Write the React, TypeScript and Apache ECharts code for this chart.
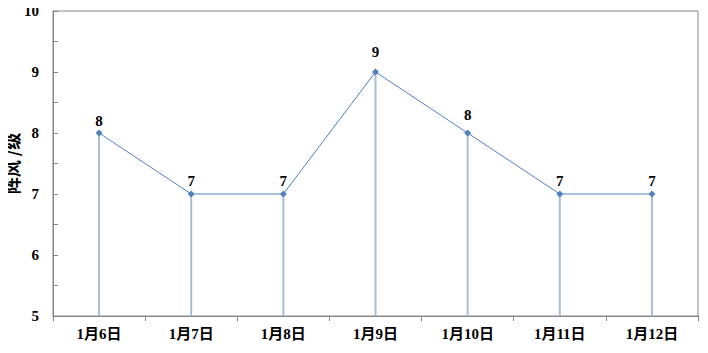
import React, { useEffect, useRef } from "react";
import * as echarts from "echarts";

const categories = ["1月6日", "1月7日", "1月8日", "1月9日", "1月10日", "1月11日", "1月12日"];
const gustValues = [8, 7, 7, 9, 8, 7, 7];
const yAxisName = "阵风 /级";

// per-label offset above the marker (style only)
const labelDistances = [1, 2, 2, 9, 7, 2, 2];

const FONT = "'Liberation Serif', 'Times New Roman', 'Noto Sans CJK SC', serif";

export default function App() {
  const ref = useRef<HTMLDivElement>(null);
  useEffect(() => {
    if (!ref.current) return;
    const chart = echarts.init(ref.current, undefined, { renderer: "svg" });
    chart.setOption({
      animation: false,
      backgroundColor: "#ffffff",
      grid: {
        left: 53,
        right: 10,
        top: 11,
        bottom: 37,
        show: true,
        borderColor: "#868686",
        borderWidth: 1,
        containLabel: false,
        outerBoundsMode: "none",
      },
      xAxis: {
        type: "category",
        data: categories,
        boundaryGap: true,
        axisLine: { show: true, lineStyle: { color: "#868686", width: 1 } },
        axisTick: { show: true, inside: false, length: 5, alignWithLabel: false, lineStyle: { color: "#868686" } },
        axisLabel: {
          color: "#000",
          fontFamily: FONT,
          fontWeight: "bold",
          fontSize: 15,
          margin: 10,
        },
        splitLine: { show: false },
      },
      yAxis: {
        type: "value",
        min: 5,
        max: 10,
        interval: 0.5,
        name: yAxisName,
        nameLocation: "middle",
        nameGap: 33,
        nameRotate: 90,
        nameMoveOverlap: false,
        nameTextStyle: { color: "#000", fontFamily: "'Noto Sans CJK SC', sans-serif", fontSize: 17, fontWeight: "bold" },
        axisLine: { show: true, lineStyle: { color: "#868686", width: 1 } },
        axisTick: { show: true, inside: true, length: 5, lineStyle: { color: "#868686" } },
        axisLabel: {
          color: "#000",
          fontFamily: FONT,
          fontWeight: "bold",
          fontSize: 15,
          margin: 14,
          formatter: (v: number) => (Number.isInteger(v) ? String(v) : ""),
        },
        splitLine: { show: false },
      },
      series: [
        {
          type: "bar",
          data: gustValues,
          barWidth: 2,
          itemStyle: { color: "#a9bdd6" },
          silent: true,
          z: 1,
        },
        {
          type: "line",
          data: gustValues.map((v, i) => ({ value: v, label: { distance: labelDistances[i] } })),
          symbol: "diamond",
          symbolSize: 7,
          lineStyle: { color: "#4f81bd", width: 1 },
          itemStyle: { color: "#4f81bd" },
          z: 3,
          label: {
            show: true,
            position: "top",
            distance: 2,
            color: "#000",
            fontFamily: FONT,
            fontWeight: "bold",
            fontSize: 15,
          },
        },
      ],
    });
    return () => chart.dispose();
  }, []);
  return <div ref={ref} style={{ width: 708, height: 353, margin: -8 }} />;
}
